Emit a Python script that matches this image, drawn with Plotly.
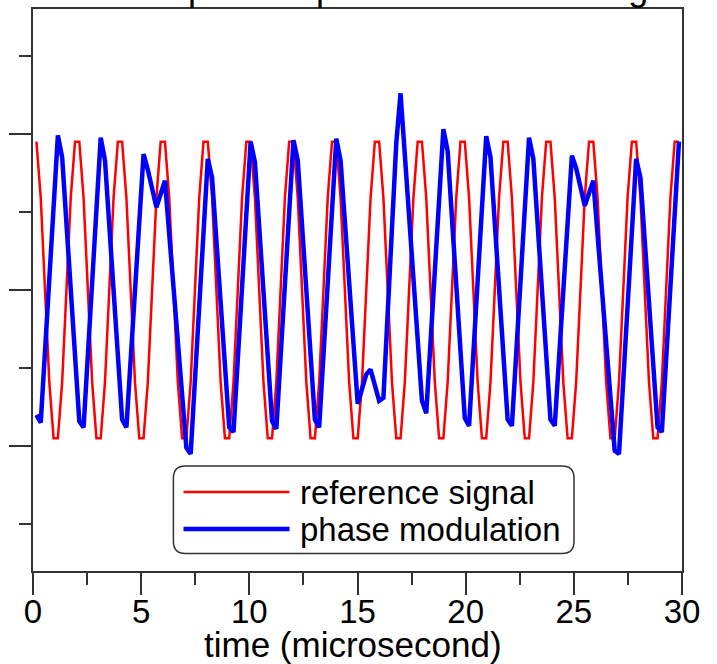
import plotly.graph_objects as go

# ---- data ----
# time grid of the sampled signals (microsecond)
t_start, t_step = 0.16, 0.198

# reference signal, one value per sample
reference_signal = [
    0.95, 0.59, 0.0, -0.59, -0.95, -0.95, -0.59, 0.0, 0.59, 0.95,
    0.95, 0.59, 0.0, -0.59, -0.95, -0.95, -0.59, 0.0, 0.59, 0.95,
    0.95, 0.59, 0.0, -0.59, -0.95, -0.95, -0.59, 0.0, 0.59, 0.95,
    0.95, 0.59, 0.0, -0.59, -0.95, -0.95, -0.59, 0.0, 0.59, 0.95,
    0.95, 0.59, 0.0, -0.59, -0.95, -0.95, -0.59, 0.0, 0.59, 0.95,
    0.95, 0.59, 0.0, -0.59, -0.95, -0.95, -0.59, 0.0, 0.59, 0.95,
    0.95, 0.59, 0.0, -0.59, -0.95, -0.95, -0.59, 0.0, 0.59, 0.95,
    0.95, 0.59, 0.0, -0.59, -0.95, -0.95, -0.59, 0.0, 0.59, 0.95,
    0.95, 0.59, 0.0, -0.59, -0.95, -0.95, -0.59, 0.0, 0.59, 0.95,
    0.95, 0.59, 0.0, -0.59, -0.95, -0.95, -0.59, 0.0, 0.59, 0.95,
    0.95, 0.59, 0.0, -0.59, -0.95, -0.95, -0.59, 0.0, 0.59, 0.95,
    0.95, 0.59, 0.0, -0.59, -0.95, -0.95, -0.59, 0.0, 0.59, 0.95,
    0.95, 0.59, 0.0, -0.59, -0.95, -0.95, -0.59, 0.0, 0.59, 0.95,
    0.95, 0.59, 0.0, -0.59, -0.95, -0.95, -0.59, 0.0, 0.59, 0.95,
    0.95, 0.59, 0.0, -0.59, -0.95, -0.95, -0.59, 0.0, 0.59, 0.95,
    0.95,
]
reference_time = [round(t_start + t_step * i, 3) for i in range(len(reference_signal))]

# phase modulation: vertices of the blue line (time, value)
phase_time = [
    0.16, 0.358, 1.15, 1.348, 2.14, 2.338, 3.13, 3.328, 4.12, 4.318,
    5.11, 5.308, 5.704, 6.1, 7.09, 7.288, 8.08, 8.278, 9.07, 9.268,
    10.06, 10.258, 11.05, 11.248, 12.04, 12.238, 13.03, 13.228, 14.02, 14.218,
    15.01, 15.406, 15.604, 16.0, 16.198, 16.792, 16.99, 17.98, 18.178,
    18.97, 19.168, 19.96, 20.158, 20.95, 21.148, 21.94, 22.138, 22.93, 23.128,
    23.92, 24.118, 24.91, 25.108, 25.504, 25.9, 26.89, 27.088, 27.88, 28.078,
    28.87, 29.068, 29.86,
]
phase_value = [
    -0.80, -0.85, 0.99, 0.85, -0.84, -0.88, 0.976, 0.83, -0.83, -0.88,
    0.87, 0.77, 0.53, 0.70, -1.01, -1.05, 0.84, 0.72, -0.88, -0.91,
    0.95, 0.82, -0.84, -0.89, 0.96, 0.83, -0.83, -0.88, 0.97, 0.83,
    -0.73, -0.54, -0.51, -0.71, -0.69, 0.94, 1.26, -0.71, -0.79,
    1.03, 0.89, -0.82, -0.87, 0.985, 0.85, -0.83, -0.87, 0.976, 0.84,
    -0.83, -0.87, 0.86, 0.78, 0.54, 0.70, -1.03, -1.05, 0.84, 0.72,
    -0.88, -0.91, 0.95,
]

x_ticks = [0, 5, 10, 15, 20, 25, 30]
legend_labels = ["reference signal", "phase modulation"]
x_title = "time (microsecond)"
title_text = "Example of a phase modulated signal"

FONT = "Liberation Sans, Arial, sans-serif"
AX = "#333333"

fig = go.Figure()
fig.add_trace(go.Scatter(x=reference_time, y=reference_signal, mode="lines",
                         line=dict(color="#ff0000", width=2.5),
                         name=legend_labels[0], showlegend=False))
fig.add_trace(go.Scatter(x=phase_time, y=phase_value, mode="lines",
                         line=dict(color="#0000ff", width=4.5),
                         name=legend_labels[1], showlegend=False))

common = dict(showgrid=False, zeroline=False, showline=True, linecolor=AX,
              linewidth=2, mirror=True, ticks="outside", tickcolor=AX,
              tickwidth=1.5, ticklen=22, automargin=False)
fig.update_xaxes(range=[0, 30], tickvals=x_ticks, ticktext=[str(v) for v in x_ticks],
                 minor=dict(dtick=2.5, tick0=0, ticks="outside", ticklen=12,
                            tickcolor=AX, tickwidth=1.5),
                 tickfont=dict(family=FONT, size=33, color="black"),
                 ticklabelstandoff=-12,
                 **common)
fig.update_yaxes(range=[-1.8, 1.8], dtick=1, tick0=0, showticklabels=False,
                 minor=dict(dtick=0.5, tick0=0, ticks="outside", ticklen=12,
                            tickcolor=AX, tickwidth=1.5),
                 **common)

# geometry helpers (plot area in pixels)
L, T, W, H = 33, 9, 649, 562
def px(v):
    return (v - L) / W
def py(v):
    return (T + H - v) / H

# legend drawn as a rounded box with sample lines and labels
x0, x1 = px(173.4), px(574)
y0, y1 = py(553.6), py(466)
rx, ry = 12 / W, 12 / H
path = (f"M {x0+rx},{y0} L {x1-rx},{y0} Q {x1},{y0} {x1},{y0+ry} "
        f"L {x1},{y1-ry} Q {x1},{y1} {x1-rx},{y1} L {x0+rx},{y1} "
        f"Q {x0},{y1} {x0},{y1-ry} L {x0},{y0+ry} Q {x0},{y0} {x0+rx},{y0} Z")
shapes = [dict(type="path", xref="paper", yref="paper", path=path,
               line=dict(color=AX, width=1.5), fillcolor="white", layer="above")]
legend_rows = [(492, "#ff0000", 2.5), (529, "#0000ff", 4.5)]
annotations = []
for (yy, col, wdt), lab in zip(legend_rows, legend_labels):
    shapes.append(dict(type="line", xref="paper", yref="paper",
                       x0=px(183.5), x1=px(289.5), y0=py(yy), y1=py(yy),
                       line=dict(color=col, width=wdt), layer="above"))
    annotations.append(dict(xref="paper", yref="paper", x=px(298),
                            y=py(yy), xanchor="left", yanchor="middle",
                            text=lab, showarrow=False,
                            font=dict(family=FONT, size=33, color="black")))

# x axis title
annotations.append(dict(xref="paper", yref="paper", x=px(353), y=py(665),
                        xanchor="center", yanchor="bottom", text=x_title,
                        showarrow=False, borderpad=0,
                        font=dict(family=FONT, size=35, color="black")))

# chart title (cut by the top edge as in the original)
annotations.append(dict(xref="paper", yref="paper", x=px(396), y=py(9),
                        xanchor="center", yanchor="bottom", text=title_text,
                        showarrow=False, borderpad=0,
                        font=dict(family=FONT, size=36, color="black")))

fig.update_layout(width=717, height=664,
                  margin=dict(l=L, r=717 - L - W, t=T, b=664 - T - H, pad=0),
                  paper_bgcolor="white", plot_bgcolor="white",
                  shapes=shapes, annotations=annotations, showlegend=False)

# the page body gets no default margin so the 717x664 figure fills the window
fig.write_html("out.html", config={"displayModeBar": False},
               post_script="document.body.style.margin='0';"
                           "document.body.style.overflow='hidden';")
